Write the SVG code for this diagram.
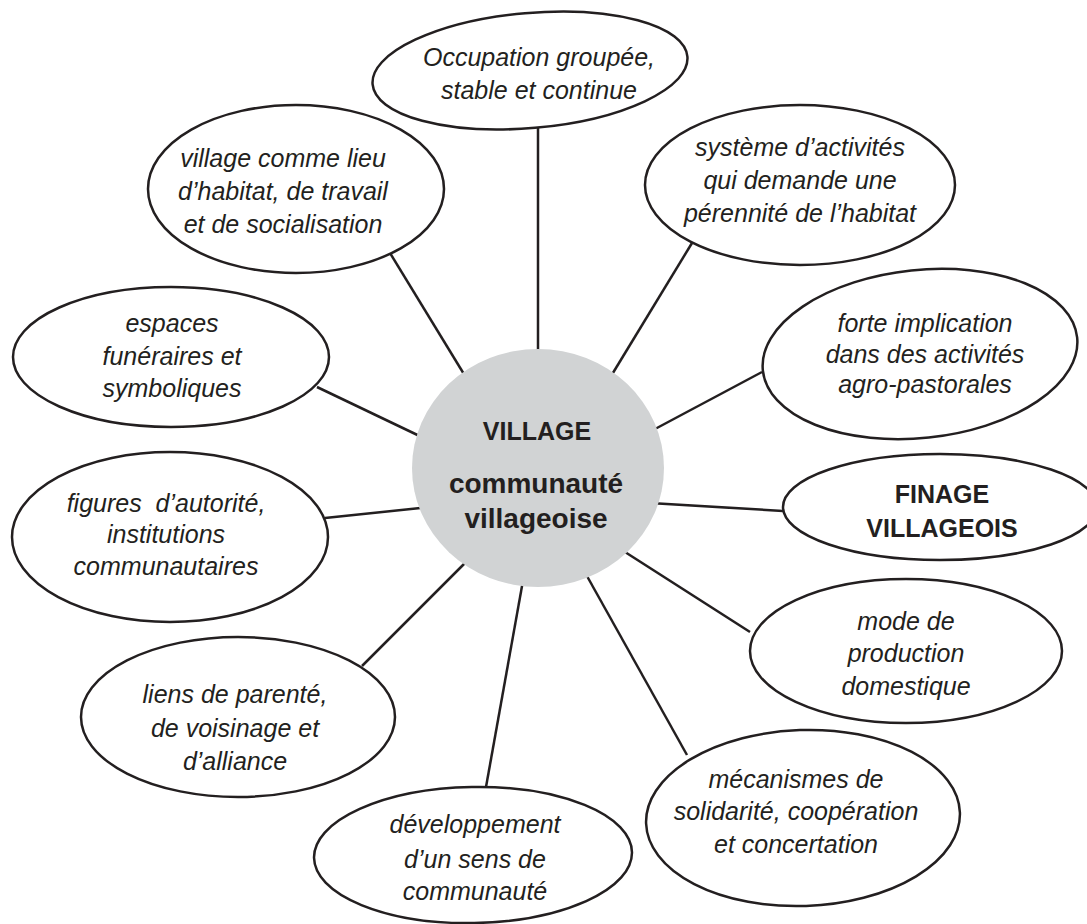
<svg xmlns="http://www.w3.org/2000/svg" width="1087" height="924" viewBox="0 0 1087 924">
<style>
.bg{fill:#ffffff}
.node ellipse{fill:#ffffff;stroke:#231f20;stroke-width:2.5}
.hub{fill:#d1d3d4;stroke:none}
.conn line{stroke:#231f20;stroke-width:2.5}
text{font-family:"Liberation Sans",Arial,sans-serif;fill:#231f20;text-anchor:middle}
.it{font-style:italic;font-size:25px}
.bd{font-weight:bold;font-size:25px}
</style>
<rect class="bg" x="0" y="0" width="1087" height="924"/>
<g id="connectors" class="conn">
<line x1="538" y1="128" x2="538" y2="380"/>
<line x1="390" y1="253" x2="470" y2="384"/>
<line x1="692" y1="243" x2="605" y2="386"/>
<line x1="317" y1="387" x2="430" y2="441"/>
<line x1="762" y1="372" x2="640" y2="437"/>
<line x1="325" y1="518" x2="430" y2="507"/>
<line x1="783" y1="511" x2="650" y2="503"/>
<line x1="750" y1="632" x2="625" y2="552"/>
<line x1="687" y1="755" x2="578" y2="560"/>
<line x1="486" y1="787" x2="524" y2="575"/>
<line x1="362" y1="666" x2="470" y2="558"/>
</g>
<g id="hub">
<ellipse class="hub" cx="538" cy="468" rx="126" ry="119"/>
<text class="bd" x="537" y="440" font-size="27">VILLAGE</text>
<text class="bd" x="536" y="493" style="font-size:28px">communauté</text>
<text class="bd" x="536" y="528" style="font-size:28px">villageoise</text>
</g>
<g id="n-occupation" class="node">
<ellipse cx="530" cy="70.5" rx="158" ry="57.5" transform="rotate(-5 530 70.5)"/>
<text class="it" x="539" y="66">Occupation groupée,</text>
<text class="it" x="539" y="99">stable et continue</text>
</g>
<g id="n-village" class="node">
<ellipse cx="296" cy="189" rx="148" ry="84"/>
<text class="it" x="283" y="167">village comme lieu</text>
<text class="it" x="283" y="200">d’habitat, de travail</text>
<text class="it" x="283" y="233">et de socialisation</text>
</g>
<g id="n-systeme" class="node">
<ellipse cx="800" cy="185" rx="155" ry="80"/>
<text class="it" x="800" y="156">système d’activités</text>
<text class="it" x="800" y="189">qui demande une</text>
<text class="it" x="800" y="222">pérennité de l’habitat</text>
</g>
<g id="n-espaces" class="node">
<ellipse cx="171" cy="357" rx="158" ry="70"/>
<text class="it" x="172" y="332">espaces</text>
<text class="it" x="172" y="365">funéraires et</text>
<text class="it" x="172" y="397">symboliques</text>
</g>
<g id="n-forte" class="node">
<ellipse cx="920" cy="354" rx="158" ry="84" transform="rotate(-6 920 354)"/>
<text class="it" x="925" y="332">forte implication</text>
<text class="it" x="925" y="363">dans des activités</text>
<text class="it" x="925" y="393">agro-pastorales</text>
</g>
<g id="n-figures" class="node">
<ellipse cx="170" cy="537" rx="158" ry="85"/>
<text class="it" x="166" y="512" xml:space="preserve">figures  d’autorité,</text>
<text class="it" x="166" y="543">institutions</text>
<text class="it" x="166" y="575">communautaires</text>
</g>
<g id="n-finage" class="node">
<ellipse cx="940" cy="507" rx="157" ry="53"/>
<text class="bd" x="942" y="503">FINAGE</text>
<text class="bd" x="942" y="537">VILLAGEOIS</text>
</g>
<g id="n-mode" class="node">
<ellipse cx="906" cy="651" rx="156" ry="72"/>
<text class="it" x="906" y="630">mode de</text>
<text class="it" x="906" y="662">production</text>
<text class="it" x="906" y="695">domestique</text>
</g>
<g id="n-liens" class="node">
<ellipse cx="238" cy="717" rx="157" ry="80"/>
<text class="it" x="235" y="703">liens de parenté,</text>
<text class="it" x="235" y="737">de voisinage et</text>
<text class="it" x="235" y="770">d’alliance</text>
</g>
<g id="n-mecanismes" class="node">
<ellipse cx="803" cy="818" rx="157" ry="88" transform="rotate(-2 803 818)"/>
<text class="it" x="796" y="788">mécanismes de</text>
<text class="it" x="796" y="820">solidarité, coopération</text>
<text class="it" x="796" y="853">et concertation</text>
</g>
<g id="n-developpement" class="node">
<ellipse cx="473" cy="855" rx="159" ry="68" transform="rotate(-1 473 855)"/>
<text class="it" x="475" y="833">développement</text>
<text class="it" x="475" y="868">d’un sens de</text>
<text class="it" x="475" y="900">communauté</text>
</g>
</svg>
